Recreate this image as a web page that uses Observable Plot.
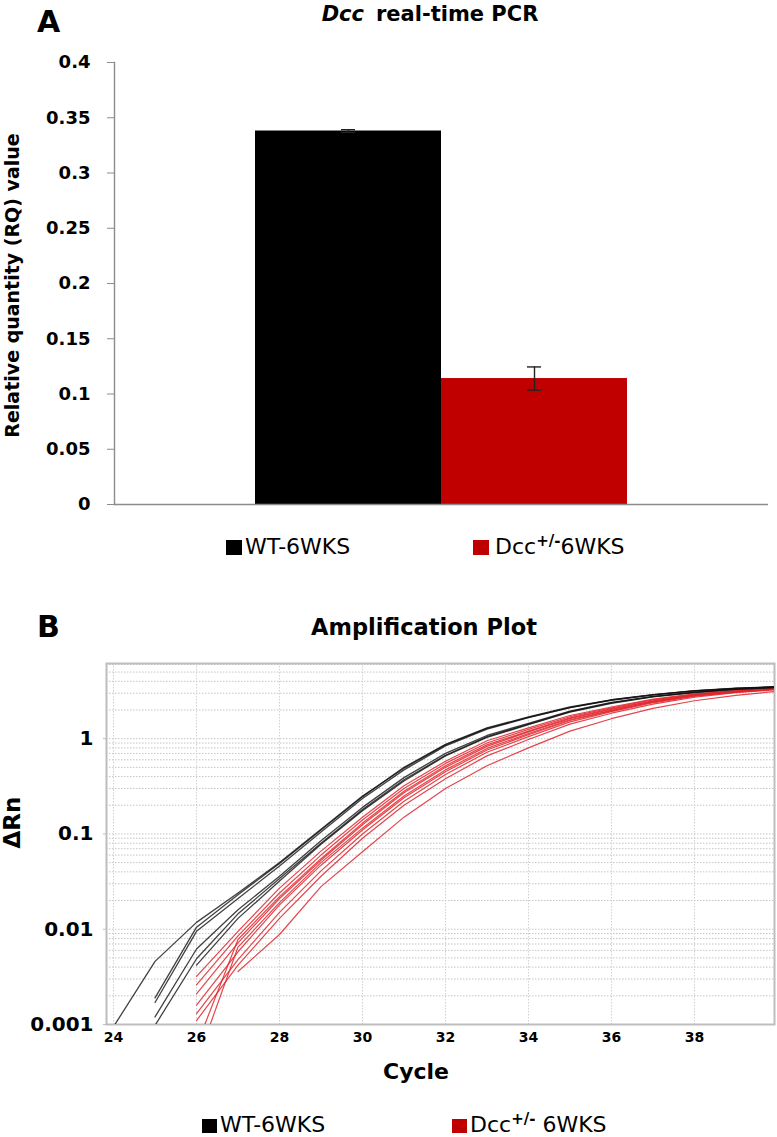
<!DOCTYPE html>
<html><head><meta charset="utf-8">
<script src="https://cdn.jsdelivr.net/npm/d3@7"></script>
<script src="https://cdn.jsdelivr.net/npm/@observablehq/plot@0.6"></script>
<style>
body{margin:0;background:#fff;}
#root{position:relative;width:777px;height:1137px;overflow:hidden;font-family:"DejaVu Sans",sans-serif;color:#000;background:#fff;}
.t{position:absolute;white-space:nowrap;line-height:1;}
.sq{position:absolute;}
.plot{position:absolute;left:0;}
</style></head><body><div id="root"></div>
<script>
// ---------- Panel A data ----------
const groupsA = ["WT-6WKS", "Dcc+/-6WKS"];
const rqValues = [0.338, 0.114];
const rqErrors = [0.0012, 0.0105];
const colorsA = ["#000000", "#C00000"];
const yTicksA = [0, 0.05, 0.1, 0.15, 0.2, 0.25, 0.3, 0.35, 0.4];

// ---------- Panel B data (ΔRn per cycle, cycles 24..40) ----------
const cycles = [24, 25, 26, 27, 28, 29, 30, 31, 32, 33, 34, 35, 36, 37, 38, 39, 40];
const wt1 = [0.00095, 0.0046, 0.0118, 0.024, 0.050, 0.112, 0.25, 0.49, 0.86, 1.28, 1.67, 2.12, 2.55, 2.88, 3.18, 3.37, 3.5];
const wt2 = [null, 0.0019, 0.0105, 0.023, 0.049, 0.11, 0.245, 0.5, 0.87, 1.3, 1.69, 2.15, 2.56, 2.9, 3.2, 3.38, 3.52];
const wt3 = [null, 0.0017, 0.0095, 0.021, 0.046, 0.105, 0.235, 0.47, 0.84, 1.26, 1.66, 2.12, 2.53, 2.88, 3.18, 3.37, 3.5];
const wt4 = [null, 0.0012, 0.0062, 0.016, 0.036, 0.085, 0.19, 0.39, 0.7, 1.08, 1.45, 1.95, 2.4, 2.78, 3.08, 3.32, 3.47];
const wt5 = [null, 0.00098, 0.0049, 0.0145, 0.034, 0.08, 0.18, 0.37, 0.67, 1.05, 1.42, 1.92, 2.37, 2.76, 3.06, 3.3, 3.46];
const wt6 = [null, null, 0.0042, 0.013, 0.032, 0.078, 0.175, 0.36, 0.66, 1.03, 1.4, 1.9, 2.35, 2.74, 3.05, 3.3, 3.45];
const het1 = [null, null, 0.0032, 0.0095, 0.027, 0.066, 0.15, 0.32, 0.58, 0.95, 1.3, 1.75, 2.15, 2.6, 2.95, 3.2, 3.4];
const het2 = [null, null, 0.0026, 0.0085, 0.024, 0.06, 0.14, 0.3, 0.55, 0.9, 1.25, 1.7, 2.1, 2.55, 2.92, 3.18, 3.38];
const het3 = [null, null, 0.0021, 0.0072, 0.021, 0.053, 0.125, 0.27, 0.5, 0.83, 1.18, 1.62, 2.03, 2.48, 2.87, 3.14, 3.35];
const het4 = [null, null, 0.0016, 0.0058, 0.018, 0.047, 0.11, 0.24, 0.45, 0.76, 1.1, 1.55, 1.96, 2.42, 2.82, 3.1, 3.32];
const het5 = [null, null, 0.0013, 0.0048, 0.015, 0.041, 0.1, 0.22, 0.42, 0.72, 1.05, 1.5, 1.92, 2.38, 2.78, 3.08, 3.3];
const het6 = [null, null, 0.0011, 0.0042, 0.013, 0.036, 0.09, 0.2, 0.38, 0.66, 0.98, 1.42, 1.85, 2.3, 2.72, 3.04, 3.27];
const het7 = [null, null, 0.0006, 0.0078, 0.022, 0.055, 0.13, 0.28, 0.52, 0.86, 1.2, 1.65, 2.06, 2.5, 2.88, 3.15, 3.36];
const het8 = [null, null, 0.0004, 0.0065, 0.019, 0.05, 0.115, 0.25, 0.47, 0.79, 1.13, 1.58, 1.98, 2.44, 2.84, 3.12, 3.33];
const het9 = [null, null, null, 0.0036, 0.0088, 0.028, 0.065, 0.15, 0.3, 0.52, 0.8, 1.2, 1.62, 2.08, 2.5, 2.85, 3.15];
const xTicksB = [24, 26, 28, 30, 32, 34, 36, 38];
const yTicksB = [0.001, 0.01, 0.1, 1];
const colorWT = "#111111";
const colorHet = "#e0252b";

// ---------- build tables ----------
const dataA = groupsA.map((g, i) => ({group: g, value: rqValues[i], err: rqErrors[i]}));
function tidy(series, names) {
  const out = [];
  series.forEach((s, k) => s.forEach((v, i) => { if (v != null) out.push({id: names[k], cycle: cycles[i], value: v}); }));
  return out;
}
const wtData = tidy([wt1, wt2, wt3, wt4, wt5, wt6], ["wt1","wt2","wt3","wt4","wt5","wt6"]);
const hetData = tidy([het1, het2, het3, het4, het5, het6, het7, het8, het9],
  ["h1","h2","h3","h4","h5","h6","h7","h8","h9"]);

const root = document.getElementById("root");

// ---------- Panel A chart ----------
const chartA = Plot.plot({
  width: 777, height: 530,
  marginTop: 62, marginBottom: 26, marginLeft: 114, marginRight: 9,
  style: {fontFamily: "DejaVu Sans", background: "transparent"},
  x: {domain: groupsA, paddingInner: 0, paddingOuter: 0.7534, axis: null},
  y: {domain: [0, 0.4], label: null},
  color: {domain: groupsA, range: colorsA},
  marks: [
    Plot.barY(dataA, {x: "group", y: "value", fill: "group"}),
    Plot.ruleX(dataA, {x: "group", y1: d => d.value - d.err, y2: d => d.value + d.err, stroke: "#222", strokeWidth: 1.4}),
    Plot.tickY(dataA, {x: "group", y: d => d.value - d.err, inset: 86, stroke: "#222", strokeWidth: 1.4}),
    Plot.tickY(dataA, {x: "group", y: d => d.value + d.err, inset: 86, stroke: "#222", strokeWidth: 1.4}),
    Plot.ruleY([0], {stroke: "#8c8c8c", strokeWidth: 1.4}),
    Plot.frame({anchor: "left", stroke: "#8c8c8c", strokeWidth: 1.4}),
    Plot.axisY(yTicksA, {tickSize: 7, tickPadding: 17, stroke: "#8c8c8c", fill: "#000", fontSize: 18, fontWeight: "bold",
      tickFormat: d => String(d), label: null})
  ]
});
chartA.classList.add("plot");
chartA.style.top = "0px";
root.appendChild(chartA);

// ---------- Panel B chart ----------
const gridB = d3.scaleLog().domain([0.001, 6.15]).ticks();
const chartB = Plot.plot({
  width: 777, height: 460,
  marginTop: 63, marginBottom: 36, marginLeft: 106, marginRight: 3,
  style: {fontFamily: "DejaVu Sans", background: "transparent"},
  x: {domain: [23.83, 39.93], label: null},
  y: {type: "log", domain: [0.001, 6.15], label: null},
  marks: [
    Plot.gridY(gridB, {stroke: "#c4c4c4", strokeOpacity: 1, strokeWidth: 1, strokeDasharray: "1.5,1.5"}),
    Plot.gridX(xTicksB, {stroke: "#d0d0d0", strokeOpacity: 1, strokeWidth: 1, strokeDasharray: "1.5,1.5"}),
    Plot.frame({stroke: "#bdbdbd", strokeWidth: 2}),
    Plot.line(hetData, {x: "cycle", y: "value", z: "id", stroke: colorHet, strokeWidth: 1.2, strokeOpacity: 0.85, clip: true}),
    Plot.line(wtData, {x: "cycle", y: "value", z: "id", stroke: colorWT, strokeWidth: 1.3, strokeOpacity: 0.8, clip: true}),
    Plot.axisY(yTicksB, {tickSize: 3, tickPadding: 10, stroke: "#bdbdbd", fill: "#000", fontSize: 20, fontWeight: "bold", tickFormat: d => String(d), label: null}),
    Plot.axisX(xTicksB, {tickSize: 0, tickPadding: 8, fontSize: 14, fontWeight: "bold", tickFormat: d => String(d), label: null})
  ]
});
chartB.classList.add("plot");
chartB.style.top = "600px";
root.appendChild(chartB);

// ---------- text helpers ----------
function addText(html, x, baseline, size, opts = {}) {
  const el = document.createElement("div");
  el.className = "t";
  el.innerHTML = html;
  el.style.fontSize = size + "px";
  el.style.top = (baseline - 0.846 * size) + "px";
  el.style.left = x + "px";
  if (opts.bold) el.style.fontWeight = "bold";
  if (opts.center) el.style.transform = "translateX(-50%)";
  root.appendChild(el);
  return el;
}
function addVText(html, cx, cy, size) {
  const w = 420;
  const el = document.createElement("div");
  el.className = "t";
  el.innerHTML = html;
  el.style.fontSize = size + "px";
  el.style.fontWeight = "bold";
  el.style.width = w + "px";
  el.style.height = size + "px";
  el.style.textAlign = "center";
  el.style.left = (cx - w / 2) + "px";
  el.style.top = (cy - size / 2) + "px";
  el.style.transform = "rotate(-90deg)";
  el.style.transformOrigin = "50% 50%";
  root.appendChild(el);
}
function addSquare(x, y, w, h, color) {
  const el = document.createElement("div");
  el.className = "sq";
  Object.assign(el.style, {left: x + "px", top: y + "px", width: w + "px", height: h + "px", background: color});
  root.appendChild(el);
}
const sup = '<span style="font-size:15px;font-weight:bold;position:relative;top:-8px">+/-</span>';

// Panel A texts
addText("A", 37, 32, 30, {bold: true});
addText('<i>Dcc</i><span style="margin-left:12px">real-time PCR</span>', 430, 22, 21, {bold: true, center: true});
addVText("Relative quantity (RQ) value", 11.5, 285.5, 19);
addSquare(226, 540, 16, 15, colorsA[0]);
addText("WT-6WKS", 245, 555, 22);
addSquare(473, 540, 16, 15, colorsA[1]);
addText("Dcc" + sup + "6WKS", 495, 555, 22);

// Panel B texts
addText("B", 37, 637, 30, {bold: true});
addText("Amplification Plot", 424, 635, 22.5, {bold: true, center: true});
addVText("ΔRn", 12, 822, 23);
addText("Cycle", 416, 1080, 22, {bold: true, center: true});
addSquare(202, 1119, 15, 14, "#000000");
addText("WT-6WKS", 220, 1133, 22);
addSquare(452, 1119, 15, 14, "#C00000");
addText("Dcc" + sup + " 6WKS", 470, 1133, 22);
</script>
</body></html>
